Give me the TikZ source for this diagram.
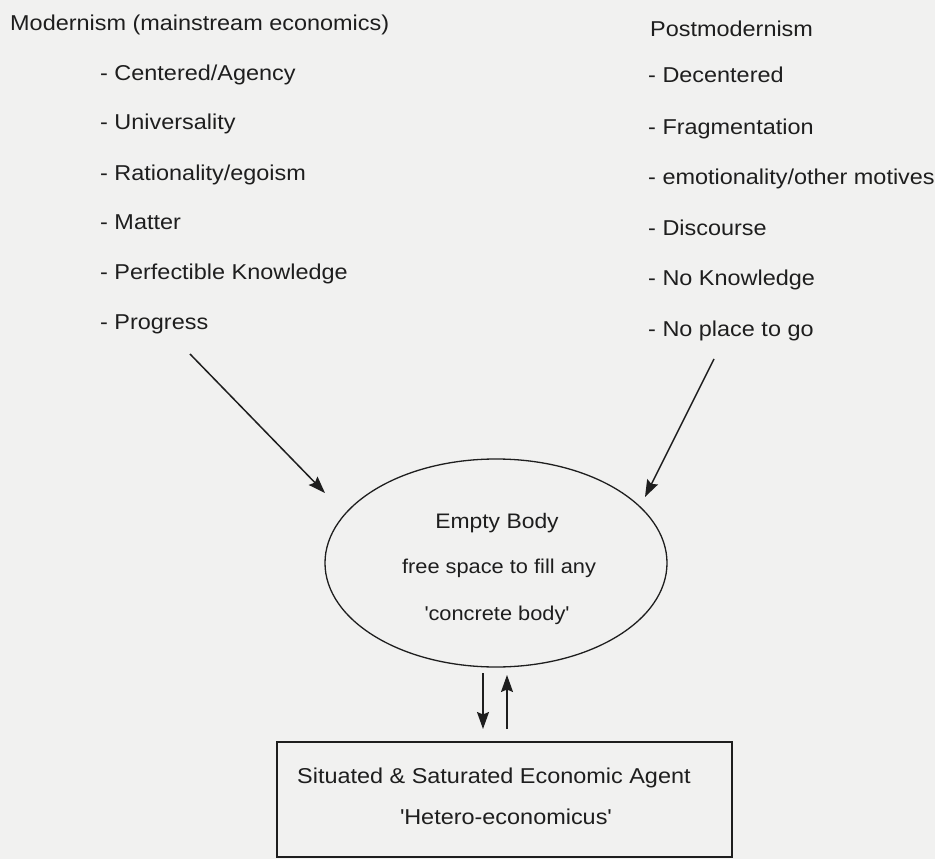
\documentclass[tikz,border=0pt]{standalone}
\usepackage{fontspec}
\setmainfont[FakeStretch=1.09]{Liberation Sans}
\usetikzlibrary{arrows.meta,shapes.geometric}
\definecolor{bgc}{HTML}{F1F1F0}
\definecolor{ink}{HTML}{1E1E1E}
\tikzset{
  lbl/.style={anchor=base west, inner sep=0pt, text=ink, font=\fontsize{21.5}{24}\selectfont},
  inlbl/.style={anchor=base, inner sep=0pt, text=ink, font=\fontsize{20}{24}\selectfont},
  arr/.style={draw=ink, line width=1.5pt, -{Stealth[length=17pt,width=12pt,inset=2.5pt]}},
}
\begin{document}
\begin{tikzpicture}[x=1pt,y=-1pt]
\fill[bgc] (0,0) rectangle (935,859);
\useasboundingbox (0,0) rectangle (935,859);
% left column
\node[lbl] (m0) at (10,31) {Modernism (mainstream economics)};
\node[lbl] (m1) at (100,81) {- Centered/Agency};
\node[lbl] (m2) at (100,129) {- Universality};
\node[lbl] (m3) at (100,180) {- Rationality/egoism};
\node[lbl] (m4) at (100,229) {- Matter};
\node[lbl] (m5) at (100,279) {- Perfectible Knowledge};
\node[lbl] (m6) at (100,329) {- Progress};
% right column
\node[lbl] (p0) at (650,37) {Postmodernism};
\node[lbl] (p1) at (648,83) {- Decentered};
\node[lbl] (p2) at (648,134) {- Fragmentation};
\node[lbl] (p3) at (648,184) {- emotionality/other motives};
\node[lbl] (p4) at (648,235) {- Discourse};
\node[lbl] (p5) at (648,285) {- No Knowledge};
\node[lbl] (p6) at (648,336) {- No place to go};
% ellipse
\node[draw=ink, line width=1.3pt, ellipse, minimum width=342pt, minimum height=208pt, inner sep=0pt] (e) at (496,563) {};
\node[inlbl, font=\fontsize{21}{24}\selectfont] (e1) at (497,528) {Empty Body};
\node[inlbl] (e2) at (499,573) {free space to fill any};
\node[inlbl] (e3) at (497,620) {\textquotesingle concrete body\textquotesingle};
% box
\node[draw=ink, line width=1.6pt, rectangle, minimum width=455pt, minimum height=115pt, inner sep=0pt] (b) at (504.5,799.5) {};
\node[lbl] (b1) at (297,783) {Situated \& Saturated Economic Agent};
\node[lbl] (b2) at (400,824) {\textquotesingle Hetero-economicus\textquotesingle};
% arrows
\coordinate (ls) at (190,354);
\coordinate (le) at (325,493);
\coordinate (rs) at (714,359);
\coordinate (re) at (645,497);
\draw[arr] (ls) -- (le);
\draw[arr] (rs) -- (re);
\coordinate (ds) at (483,673);
\coordinate (de) at (483,729);
\coordinate (us) at (507,729);
\coordinate (ue) at (507,675);
\draw[arr] (ds) -- (de);
\draw[arr] (us) -- (ue);
\end{tikzpicture}
\end{document}
